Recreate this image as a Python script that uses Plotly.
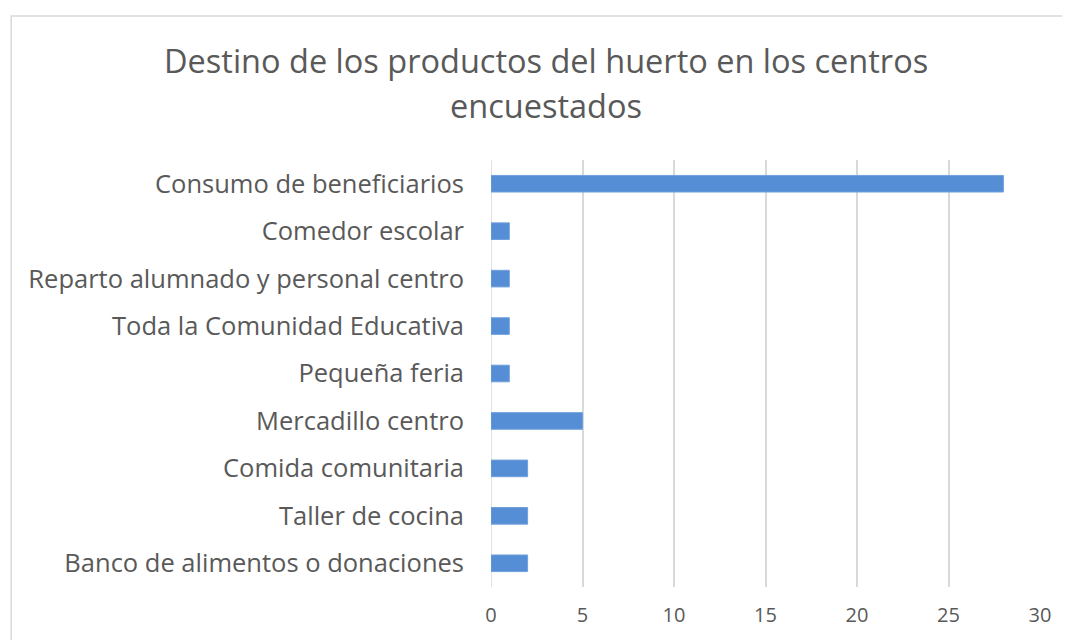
import plotly.graph_objects as go

destinos = ["Banco de alimentos o donaciones",
            "Taller de cocina",
            "Comida comunitaria",
            "Mercadillo centro",
            "Pequeña feria",
            "Toda la Comunidad Educativa",
            "Reparto alumnado y personal centro",
            "Comedor escolar",
            "Consumo de beneficiarios"]
centros = [2, 2, 2, 5, 1, 1, 1, 1, 28]
x_ticks = [0, 5, 10, 15, 20, 25, 30]
titulo = ["Destino de los productos del huerto en los centros", "encuestados"]

fig = go.Figure(go.Bar(
    x=centros, y=destinos, orientation="h",
    width=0.35,
    marker=dict(color="#558ED5", line=dict(color="#6FA0DC", width=1)),
))

# the page body adds 8px, so the figure is a bit smaller and shifted
fig.update_layout(
    width=1062, height=632,
    paper_bgcolor="white", plot_bgcolor="white",
    margin=dict(l=483, r=30, t=152, b=53),
    font=dict(family="Open Sans", color="#595959"),
    showlegend=False,
    bargap=0.6,
)
for txt, yy in zip(titulo, [1.234, 1.1265]):
    fig.add_annotation(text=txt, xref="paper", yref="paper", x=0.1002, y=yy,
                       xanchor="center", yanchor="middle", showarrow=False,
                       font=dict(size=32.5, color="#595959"))
fig.update_xaxes(range=[0, 30], tickvals=x_ticks, showgrid=True,
                 gridcolor="#D9D9D9", gridwidth=1.5, zeroline=False,
                 showline=False, tickfont=dict(size=20), ticklabelstandoff=14,
                 automargin=False)
fig.update_yaxes(showgrid=False, showline=False, ticks="",
                 tickfont=dict(size=25.5), ticklabelstandoff=26,
                 automargin=False)
fig.add_shape(type="rect", xref="paper", yref="paper",
              x0=-0.874, x1=1.2, y0=-0.3, y1=1.337,
              line=dict(color="#D9D9D9", width=1.5), fillcolor="rgba(0,0,0,0)")
fig.add_shape(type="line", xref="x", yref="paper", x0=0, x1=0, y0=0, y1=1,
              line=dict(color="#D9D9D9", width=1.5), layer="below")

fig.write_html("out.html")
